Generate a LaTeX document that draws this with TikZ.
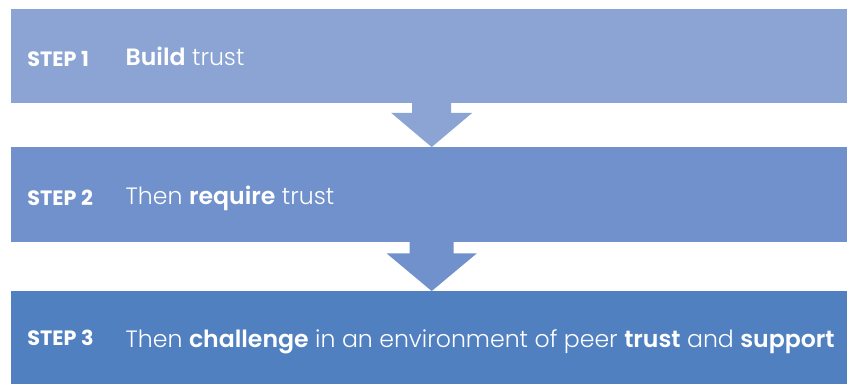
\documentclass[tikz,border=0pt]{standalone}
\usepackage{fontspec}
\setmainfont{Poppins}[UprightFont=* Light, BoldFont=* SemiBold]
\newfontfamily\stepfont{Poppins Bold}
\usetikzlibrary{calc}
\definecolor{bandA}{RGB}{139,164,212}
\definecolor{bandB}{RGB}{112,145,203}
\definecolor{bandC}{RGB}{81,128,193}
\tikzset{
  band/.style={rectangle, minimum width=840.4bp, minimum height=94.5bp, inner sep=0pt},
  steplab/.style={anchor=base west, text=white, inner sep=0pt, font=\fontsize{20.8}{20.8}\stepfont},
  txtlab/.style={anchor=base west, text=white, inner sep=0pt, font=\fontsize{23.7}{23.7}\selectfont}
}
\begin{document}
\begin{tikzpicture}[x=1bp, y=-1bp]
\useasboundingbox (0,0) rectangle (847,383);
\node[band, fill=bandA] (stp1) at (431.7,55.75){};
\node[band, fill=bandB] (stp2) at (431.7,194.5){};
\node[band, fill=bandC] (stp3) at (431.7,338.5){};
\fill[bandA] ($(stp1.south)+(-19.5,0)$) -- ($(stp1.south)+(19.5,0)$) -- ($(stp1.south)+(19.5,9.7)$) -- ($(stp1.south)+(40.5,9.7)$) -- (stp2.north) -- ($(stp1.south)+(-40.5,9.7)$) -- ($(stp1.south)+(-19.5,9.7)$) -- cycle;
\fill[bandB] ($(stp2.south)+(-22,0)$) -- ($(stp2.south)+(22,0)$) -- ($(stp2.south)+(22,11.5)$) -- ($(stp2.south)+(45,11.5)$) -- (stp3.north) -- ($(stp2.south)+(-45,11.5)$) -- ($(stp2.south)+(-22,11.5)$) -- cycle;
\node[steplab] (lab1) at (27.3,66.4){STEP 1};
\node[txtlab] (txt1) at (125.5,65.2){\textbf{Build} trust};
\node[steplab] (lab2) at (27.3,205.2){STEP 2};
\node[txtlab] (txt2) at (125.5,204.2){Then \textbf{require} trust};
\node[steplab] (lab3) at (27.3,345.5){STEP 3};
\node[txtlab] (txt3) at (125.5,347.6){Then \textbf{challenge} in an environment of peer \textbf{trust} and \textbf{support}};
\end{tikzpicture}
\end{document}
